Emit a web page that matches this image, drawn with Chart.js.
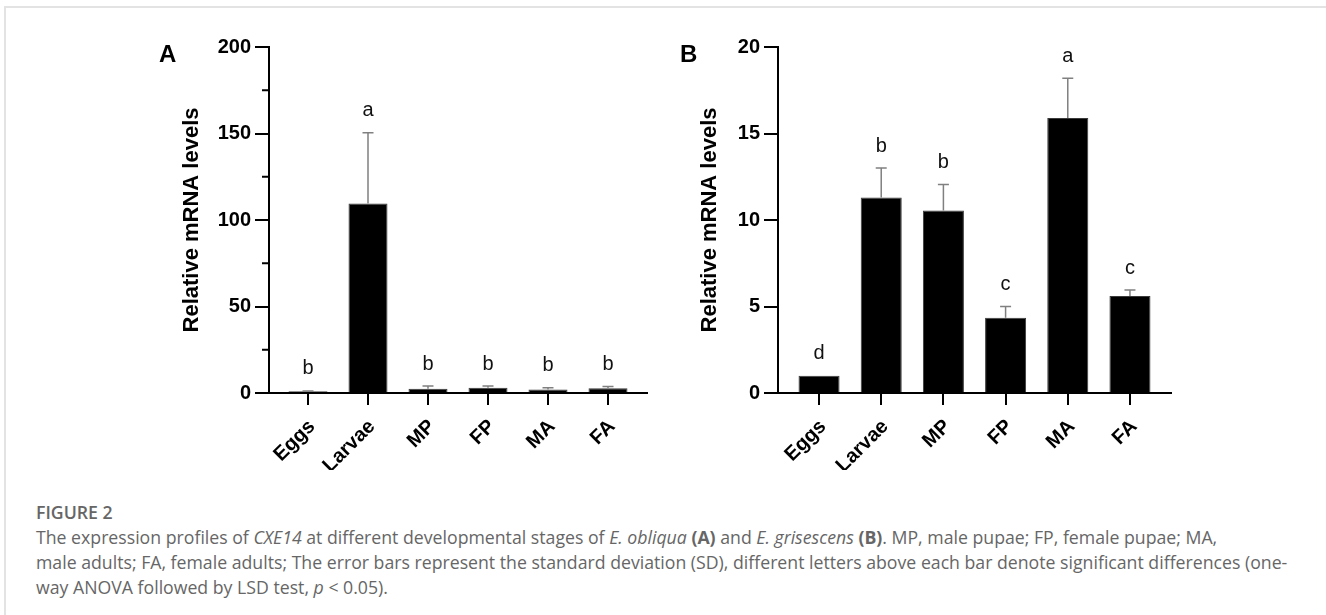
<!DOCTYPE html>
<html><head><meta charset="utf-8">
<script src="https://cdn.jsdelivr.net/npm/chart.js@4.4.1/dist/chart.umd.min.js"></script>
<style>
html,body{margin:0;padding:0;background:#fff;}
body{width:1326px;height:615px;position:relative;overflow:hidden;font-family:"Liberation Sans",Arial,sans-serif;}
#frame{position:absolute;left:4px;top:6px;width:1400px;height:700px;border-top:2px solid #e3e3e3;border-left:2px solid #e3e3e3;}
canvas{position:absolute;top:0;}
#cA{left:130px;}
#cB{left:640px;}
.plabel{position:absolute;font:bold 24px "Liberation Sans",Arial,sans-serif;color:#000;line-height:24px;}
#cap{position:absolute;left:36px;top:500px;font-family:"Open Sans",sans-serif;color:#666;white-space:nowrap;font-size:16px;line-height:25px;}
#cap .t{font-weight:600;}
</style></head>
<body>
<div id="frame"></div>
<canvas id="cA" width="540" height="470"></canvas>
<canvas id="cB" width="560" height="470"></canvas>
<div class="plabel" style="left:159px;top:42px;">A</div>
<div class="plabel" style="left:680px;top:42px;">B</div>
<div id="cap">
<div class="t"><span>FIGURE 2</span></div>
<div><span>The expression profiles of <i>CXE14</i> at different developmental stages of <i>E. obliqua</i> <b>(A)</b> and <i>E. grisescens</i> <b>(B)</b>. MP, male pupae; FP, female pupae; MA,</span></div>
<div><span id="capL2">male adults; FA, female adults; The error bars represent the standard deviation (SD), different letters above each bar denote significant differences (one-</span></div>
<div><span>way ANOVA followed by LSD test, <i>p</i> &lt; 0.05).</span></div>
</div>
<script>
const categories = ['Eggs','Larvae','MP','FP','MA','FA'];
const valuesA = [1.0, 109.5, 2.5, 3.1, 2.0, 2.8];
const sdA     = [0.2, 41.0, 1.5, 0.9, 1.0, 1.0];
const lettersA = ['b','a','b','b','b','b'];
const ticksA = [0, 50, 100, 150, 200];
const minorTicksA = [25, 75, 125, 175];
const valuesB = [1.0, 11.3, 10.55, 4.35, 15.9, 5.6];
const sdB     = [0.0, 1.7, 1.5, 0.65, 2.3, 0.35];
const lettersB = ['d','b','b','c','a','c'];
const ticksB = [0, 5, 10, 15, 20];
const minorTicksB = [];

// fit caption width to the reference line length
(function(){
  const cap = document.getElementById('cap');
  const w = document.getElementById('capL2').getBoundingClientRect().width;
  cap.style.fontSize = (16 * 1252 / w).toFixed(2) + 'px';
})();

function overlay(values, sds, letters, minor) {
  return {
    id: 'overlay',
    afterDatasetsDraw(chart) {
      const {ctx, scales: {x, y}} = chart;
      ctx.save();
      ctx.strokeStyle = '#808080';
      ctx.lineWidth = 1.5;
      values.forEach((v, i) => {
        if (sds[i] > 0) {
          const px = x.getPixelForValue(i);
          const y0 = y.getPixelForValue(v), y1 = y.getPixelForValue(v + sds[i]);
          ctx.beginPath();
          ctx.moveTo(px, y0); ctx.lineTo(px, y1);
          ctx.moveTo(px - 5.5, y1); ctx.lineTo(px + 5.5, y1);
          ctx.stroke();
        }
      });
      ctx.fillStyle = '#111';
      ctx.font = '20px "Liberation Sans", Arial, sans-serif';
      ctx.textAlign = 'center';
      ctx.textBaseline = 'middle';
      values.forEach((v, i) => {
        const px = x.getPixelForValue(i);
        const py = y.getPixelForValue(v + sds[i]) - 22;
        ctx.fillText(letters[i], px, py);
      });
      ctx.restore();
    },
    afterDraw(chart) {
      const {ctx, scales: {y}} = chart;
      ctx.save();
      ctx.strokeStyle = '#000';
      ctx.lineWidth = 2;
      minor.forEach(v => {
        const py = y.getPixelForValue(v);
        ctx.beginPath();
        ctx.moveTo(y.right - 7, py); ctx.lineTo(y.right, py);
        ctx.stroke();
      });
      ctx.restore();
    }
  };
}

function makeChart(id, values, sds, letters, yTicks, minor, yMax, xPad, yWidth, titlePad, rightPad, pct) {
  return new Chart(document.getElementById(id), {
    type: 'bar',
    data: {
      datasets: [{
        data: values.map((v, i) => ({x: i, y: v})),
        backgroundColor: '#000',
        borderColor: '#3a3a3a',
        borderWidth: 1,
        categoryPercentage: pct,
        barPercentage: 1
      }]
    },
    options: {
      responsive: false,
      animation: false,
      devicePixelRatio: 1,
      layout: {padding: {top: 47, right: rightPad, bottom: 0, left: 0}},
      plugins: {legend: {display: false}, tooltip: {enabled: false}},
      scales: {
        x: {
          type: 'linear',
          min: -xPad, max: 5 + xPad,
          offset: false,
          grid: {offset: false, drawOnChartArea: false, drawTicks: true, tickLength: 12, color: '#000', lineWidth: 2},
          border: {display: true, color: '#000', width: 2},
          afterBuildTicks: s => { s.ticks = categories.map((c, i) => ({value: i})); },
          afterFit: s => { s.height = 77; },
          ticks: {
            autoSkip: false, minRotation: 45, maxRotation: 45, padding: 10, labelOffset: 4,
            color: '#000',
            font: {family: '"Liberation Sans", Arial, sans-serif', size: 20, weight: 'bold'},
            callback: v => categories[v]
          }
        },
        y: {
          min: 0, max: yMax,
          grid: {drawOnChartArea: false, drawTicks: true, tickLength: 14, color: '#000', lineWidth: 2},
          border: {display: true, color: '#000', width: 2},
          afterBuildTicks: s => { s.ticks = yTicks.map(v => ({value: v})); },
          afterFit: s => { s.width = yWidth; },
          ticks: {
            padding: 4, color: '#000',
            font: {family: '"Liberation Sans", Arial, sans-serif', size: 20, weight: 'bold'}
          },
          title: {
            display: true, text: 'Relative mRNA levels', color: '#000',
            font: {family: '"Liberation Sans", Arial, sans-serif', size: 22, weight: 'bold'},
            padding: {top: titlePad, bottom: 0}
          }
        }
      }
    },
    plugins: [overlay(values, sds, letters, minor)]
  });
}

makeChart('cA', valuesA, sdA, lettersA, ticksA, minorTicksA, 200, 0.65, 139, 49, 23, 0.65);
makeChart('cB', valuesB, sdB, lettersB, ticksB, minorTicksB, 20, 0.66, 138, 57, 29, 0.66);
</script>
</body></html>
